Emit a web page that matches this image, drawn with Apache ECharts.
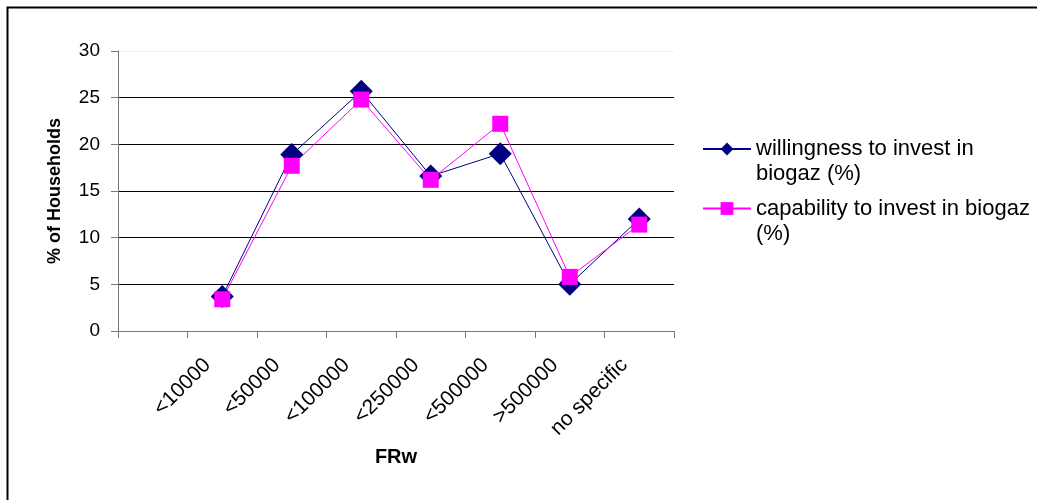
<!DOCTYPE html>
<html>
<head>
<meta charset="utf-8">
<script src="https://cdn.jsdelivr.net/npm/echarts@6/dist/echarts.min.js"></script>
<style>
    html, body { margin: 0; padding: 0; background: #fff; }
    #chart { width: 1037px; height: 500px; }
</style>
</head>
<body>
<div id="chart"></div>
<script>
    // 类别（第一个为空类别）
    let categories = ['', '<10000', '<50000', '<100000', '<250000', '<500000', '>500000', 'no specific'];
    // 意愿投资
    let willingness = [3.7, 18.9, 25.7, 16.6, 19.0, 5.0, 12.0];
    // 能力投资
    let capability = [3.4, 17.7, 24.8, 16.2, 22.2, 5.8, 11.4];
    let seriesNames = ['willingness to invest in biogaz (%)', 'capability to invest in biogaz (%)'];
    let legendLabels = ['\nwillingness to invest in\nbiogaz (%)', '\ncapability to invest in biogaz\n(%)'];
    let yTicks = [0, 5, 10, 15, 20, 25, 30];

    let font = 'Liberation Sans, Arial, sans-serif';
    let myChart = echarts.init(document.getElementById('chart'));

    function legendItem(idx, top) {
        return {
            data: [seriesNames[idx]],
            left: 702,
            top: top,
            padding: 0,
            itemWidth: 48,
            itemHeight: 16,
            selectedMode: false,
            formatter: function () { return legendLabels[idx]; },
            textStyle: { fontFamily: font, fontSize: 22, lineHeight: 25, color: '#000' }
        };
    }

    let option = {
        animation: false,
        backgroundColor: '#fff',
        graphic: [{
            type: 'rect',
            shape: { x: 7.5, y: 7.5, width: 1200, height: 700 },
            style: { fill: 'none', stroke: '#000', lineWidth: 2 },
            silent: true
        }],
        legend: [legendItem(0, 111.5), legendItem(1, 171)],
        grid: { left: 118, right: 363, top: 51, bottom: 169 },
        xAxis: {
            type: 'category',
            data: categories,
            boundaryGap: true,
            name: 'FRw',
            nameLocation: 'middle',
            nameGap: 116,
            nameTextStyle: { fontFamily: font, fontSize: 20, fontWeight: 'bold', color: '#000' },
            axisLine: { lineStyle: { color: '#777', width: 1 } },
            axisTick: { show: true, interval: 0, length: 7, lineStyle: { color: '#777' } },
            axisLabel: {
                interval: 0,
                rotate: 45,
                margin: 16,
                padding: [0, 21, 0, 0],
                fontFamily: font,
                fontSize: 21,
                color: '#000'
            },
            splitLine: { show: false }
        },
        yAxis: {
            type: 'value',
            min: 0,
            max: 30,
            interval: 5,
            name: '% of Households',
            nameLocation: 'middle',
            nameGap: 54,
            nameTextStyle: { fontFamily: font, fontSize: 18, fontWeight: 'bold', color: '#000' },
            axisLine: { show: true, lineStyle: { color: '#777', width: 1 } },
            axisTick: { show: true, inside: false, length: 7, lineStyle: { color: '#777' } },
            axisLabel: {
                margin: 18,
                fontFamily: font,
                fontSize: 19,
                color: '#000',
                formatter: function (v) { return yTicks.indexOf(v) >= 0 ? String(v) : ''; }
            },
            splitLine: {
                show: true,
                lineStyle: { color: ['#000', '#000', '#000', '#000', '#000', '#000', '#eeeeee'], width: 1 }
            }
        },
        series: [{
            name: seriesNames[0],
            type: 'line',
            data: [null].concat(willingness),
            symbol: 'diamond',
            symbolSize: 23,
            color: '#000080',
            lineStyle: { color: '#000080', width: 1 },
            itemStyle: { color: '#000080' }
        }, {
            name: seriesNames[1],
            type: 'line',
            data: [null].concat(capability),
            symbol: 'rect',
            symbolSize: 16,
            color: '#ff00ff',
            lineStyle: { color: '#ff00ff', width: 1 },
            itemStyle: { color: '#ff00ff' }
        }]
    };

    myChart.setOption(option);
</script>
</body>
</html>
